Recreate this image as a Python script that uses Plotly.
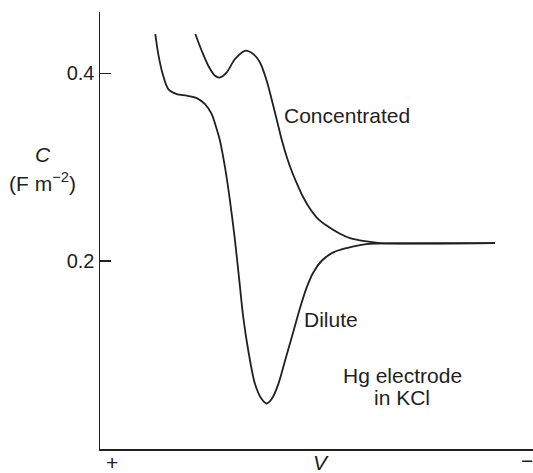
import plotly.graph_objects as go

# Relative potential (0 = left/positive end, 100 = right/negative end), capacitance in F m^-2
dilute_v = [12.77, 13.46, 14.48, 15.77, 17.71, 20.02, 22.33, 24.25, 25.80, 26.95, 27.71, 28.87,
            30.02, 31.18, 32.10, 33.09, 34.25, 35.80, 37.34, 38.50, 39.65, 41.18, 42.73, 44.27,
            46.37, 47.74, 49.26, 51.20, 53.88, 56.97, 60.05, 63.12, 69.28, 91.22]
dilute_c = [0.442, 0.4207, 0.3994, 0.3833, 0.3780, 0.3762, 0.3737, 0.3673, 0.3566, 0.3406, 0.3281, 0.2996,
            0.2640, 0.2214, 0.1822, 0.1395, 0.1039, 0.0683, 0.0523, 0.0476, 0.0523, 0.0683, 0.0932, 0.1181,
            0.1521, 0.1715, 0.1875, 0.2000, 0.2089, 0.2136, 0.2168, 0.2182, 0.2185, 0.2189]

conc_v = [22.01, 23.49, 25.01, 26.56, 27.71, 29.26, 31.18, 33.49, 35.40, 36.95, 38.50, 39.72,
          40.88, 42.03, 43.19, 44.34, 45.50, 46.88, 48.50, 50.12, 52.42, 55.43, 57.74, 61.59, 64.67, 91.22]
conc_c = [0.4421, 0.4242, 0.4082, 0.3975, 0.3957, 0.4011, 0.4154, 0.4242, 0.4207, 0.4117, 0.3922, 0.3709,
          0.3495, 0.3281, 0.3100, 0.2950, 0.2822, 0.2683, 0.2555, 0.2459, 0.2373, 0.2288, 0.2242, 0.2206,
          0.2189, 0.2189]

y_ticks = [0.2, 0.4]
y_tick_labels = ["0.2", "0.4"]

FONT = "Liberation Sans, Arial, Helvetica, sans-serif"
INK = "#231f20"

fig = go.Figure()
for xs, ys in [(dilute_v, dilute_c), (conc_v, conc_c)]:
    fig.add_trace(go.Scatter(x=xs, y=ys, mode="lines",
                             line=dict(color=INK, width=1.8, shape="spline", smoothing=0.8),
                             showlegend=False, hoverinfo="skip"))

W, H = 533, 473
L, R, T, B = 100, 0, 12, 24
pw, ph = W - L - R, H - T - B

def px(x):
    return (x - L) / pw

def py(y):
    return (H - B - y) / ph

def ann(text, x, y, size=21, xanchor="center", italic=False):
    return dict(text=("<i>%s</i>" % text) if italic else text, x=px(x), y=py(y),
                xref="paper", yref="paper", xanchor=xanchor, yanchor="middle",
                showarrow=False, font=dict(family=FONT, size=size, color=INK))

annotations = [
    ann("Concentrated", 282, 115, xanchor="left"),
    ann("Dilute", 302, 319, xanchor="left"),
    ann("Hg electrode", 402, 375),
    ann("in KCl", 402, 397),
    ann("C", 43, 155, italic=True),
    ann("(F m<sup>−2</sup>)", 42, 182),
    ann("+", 112, 462),
    ann("V", 321, 463, italic=True),
    ann("−", 527, 460),
]

fig.update_layout(
    width=W, height=H,
    margin=dict(l=L, r=R, t=T, b=B),
    paper_bgcolor="white", plot_bgcolor="white",
    font=dict(family=FONT, color=INK, size=20),
    annotations=annotations,
    xaxis=dict(range=[0, 100], showline=True, linecolor=INK, linewidth=1.5,
               showticklabels=False, ticks="", showgrid=False, zeroline=False, fixedrange=True),
    yaxis=dict(range=[-0.001, 0.4656], showline=True, linecolor=INK, linewidth=1.5,
               tickvals=y_ticks, ticktext=y_tick_labels, ticks="inside", ticklen=11,
               tickwidth=1.5, tickcolor=INK, showgrid=False, zeroline=False,
               tickfont=dict(family=FONT, size=20, color=INK), fixedrange=True),
)

fig.write_html("out.html", config={"displayModeBar": False, "staticPlot": True},
               post_script="document.body.style.margin='0';document.body.style.overflow='hidden';")
